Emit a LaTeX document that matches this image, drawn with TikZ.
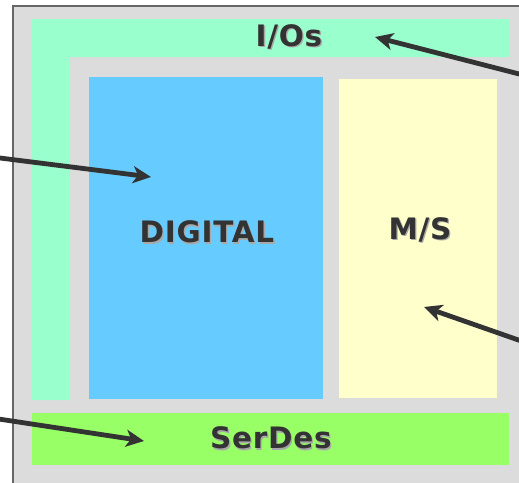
\documentclass[tikz,border=0pt]{standalone}
\usepackage{fontspec}
\setmainfont{DejaVu Sans}
\usetikzlibrary{arrows.meta}
\definecolor{frameline}{HTML}{666666}
\definecolor{panel}{HTML}{DCDCDC}
\definecolor{iogreen}{HTML}{99FFCC}
\definecolor{digblue}{HTML}{66CCFF}
\definecolor{msyellow}{HTML}{FFFFCC}
\definecolor{serdesgreen}{HTML}{99FF66}
\definecolor{ink}{HTML}{333333}
\definecolor{shade}{HTML}{A8A8A8}
\begin{document}
\begin{tikzpicture}[x=1pt,y=-1pt,
  block/.style={draw=none, inner sep=0pt, outer sep=0pt, anchor=north west},
  blocktext/.style={font=\bfseries\fontsize{29.5}{32}\selectfont\addfontfeature{LetterSpace=2.5}, text=ink, inner sep=0pt},
  blockshade/.style={blocktext, text=shade},
  pointer/.style={draw=ink, line width=4.8pt, -{Stealth[length=18pt,width=17pt,inset=5pt]}}
]
\useasboundingbox (0,0) rectangle (519,482);
\clip (0,0) rectangle (519,482);

% chip outline
\draw[frameline, line width=2pt, fill=panel] (13,6) rectangle (545,510);

% I/O ring (L-shaped strip)
\fill[iogreen] (32,19) -- (509,19) -- (509,57) -- (70,57) -- (70,400) -- (32,400) -- cycle;

% functional blocks
\node[block, fill=digblue, minimum width=234pt, minimum height=322pt] (digital) at (89,77) {};
\node[block, fill=msyellow, minimum width=158pt, minimum height=319pt] (mixsig) at (339,79) {};
\node[block, fill=serdesgreen, minimum width=477pt, minimum height=52pt] (serdes) at (32,413) {};

% block names with a light drop shadow
\node[blockshade] (ioShadow) at (290.3,38.3) {I/Os};
\node[blocktext] (ioLabel) at (289,37) {I/Os};
\node[blockshade] (digShadow) at (208.3,233.3) {DIGITAL};
\node[blocktext] (digLabel) at (207,232) {DIGITAL};
\node[blockshade] (msShadow) at (421.3,231.3) {M/S};
\node[blocktext] (msLabel) at (420,230) {M/S};
\node[blockshade] (sdShadow) at (272.3,439.3) {SerDes};
\node[blocktext] (sdLabel) at (271,438) {SerDes};

% pointer end points
\coordinate (digTail) at (-8,157);
\coordinate (digTip) at (151,177);
\coordinate (ioTail) at (527,76);
\coordinate (ioTip) at (375,37);
\coordinate (msTail) at (527,343);
\coordinate (msTip) at (424,307);
\coordinate (sdTail) at (-8,418);
\coordinate (sdTip) at (144,441);

% pointers
\draw[pointer] (digTail) -- (digTip);
\draw[pointer] (ioTail) -- (ioTip);
\draw[pointer] (msTail) -- (msTip);
\draw[pointer] (sdTail) -- (sdTip);
\end{tikzpicture}
\end{document}
